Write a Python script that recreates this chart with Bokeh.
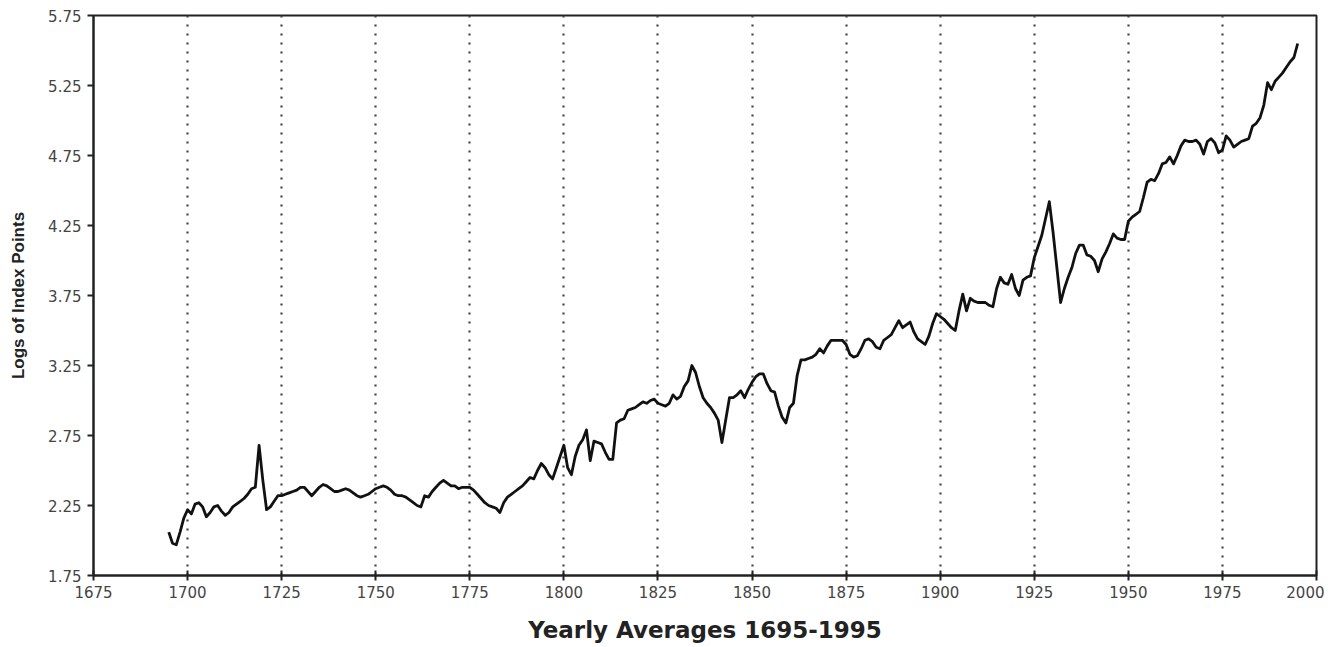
from bokeh.plotting import figure
from bokeh.models import FixedTicker, Range1d, CustomJSTickFormatter
from bokeh.embed import file_html
from bokeh.resources import INLINE

years = list(range(1695, 1996))
log_index = [
    2.06, 1.98, 1.97, 2.06, 2.16,                                  # 1695-1699
    2.22, 2.19, 2.26, 2.27, 2.24, 2.17, 2.20, 2.24, 2.25, 2.21,    # 1700-1709
    2.18, 2.20, 2.24, 2.26, 2.28, 2.30, 2.33, 2.37, 2.38, 2.68,    # 1710-1719
    2.43, 2.22, 2.24, 2.28, 2.32, 2.32, 2.33, 2.34, 2.35, 2.36,    # 1720-1729
    2.38, 2.38, 2.35, 2.32, 2.35, 2.38, 2.40, 2.39, 2.37, 2.35,    # 1730-1739
    2.35, 2.36, 2.37, 2.36, 2.34, 2.32, 2.31, 2.32, 2.33, 2.35,    # 1740-1749
    2.37, 2.38, 2.39, 2.38, 2.36, 2.33, 2.32, 2.32, 2.31, 2.29,    # 1750-1759
    2.27, 2.25, 2.24, 2.32, 2.31, 2.35, 2.38, 2.41, 2.43, 2.41,    # 1760-1769
    2.39, 2.39, 2.37, 2.38, 2.38, 2.38, 2.36, 2.33, 2.30, 2.27,    # 1770-1779
    2.25, 2.24, 2.23, 2.20, 2.27, 2.31, 2.33, 2.35, 2.37, 2.39,    # 1780-1789
    2.42, 2.45, 2.44, 2.50, 2.55, 2.52, 2.47, 2.44, 2.52, 2.60,    # 1790-1799
    2.68, 2.52, 2.47, 2.60, 2.68, 2.72, 2.79, 2.57, 2.71, 2.70,    # 1800-1809
    2.69, 2.63, 2.58, 2.58, 2.84, 2.86, 2.87, 2.93, 2.94, 2.95,    # 1810-1819
    2.97, 2.99, 2.98, 3.00, 3.01, 2.98, 2.97, 2.96, 2.98, 3.04,    # 1820-1829
    3.01, 3.03, 3.10, 3.14, 3.25, 3.20, 3.10, 3.02, 2.98, 2.95,    # 1830-1839
    2.91, 2.86, 2.70, 2.86, 3.02, 3.02, 3.04, 3.07, 3.02, 3.08,    # 1840-1849
    3.13, 3.17, 3.19, 3.19, 3.12, 3.07, 3.06, 2.96, 2.88, 2.84,    # 1850-1859
    2.95, 2.98, 3.18, 3.29, 3.29, 3.30, 3.31, 3.33, 3.37, 3.34,    # 1860-1869
    3.39, 3.43, 3.43, 3.43, 3.43, 3.40, 3.33, 3.31, 3.32, 3.37,    # 1870-1879
    3.43, 3.44, 3.42, 3.38, 3.37, 3.43, 3.45, 3.47, 3.52, 3.57,    # 1880-1889
    3.52, 3.54, 3.56, 3.49, 3.44, 3.42, 3.40, 3.46, 3.55, 3.62,    # 1890-1899
    3.60, 3.58, 3.55, 3.52, 3.50, 3.64, 3.76, 3.64, 3.73, 3.71,    # 1900-1909
    3.70, 3.70, 3.70, 3.68, 3.67, 3.80, 3.88, 3.84, 3.83, 3.90,    # 1910-1919
    3.80, 3.75, 3.86, 3.88, 3.89, 4.02, 4.10, 4.18, 4.30, 4.42,    # 1920-1929
    4.20, 3.95, 3.70, 3.80, 3.88, 3.95, 4.05, 4.11, 4.11, 4.04,    # 1930-1939
    4.03, 4.00, 3.92, 4.01, 4.06, 4.12, 4.19, 4.16, 4.15, 4.15,    # 1940-1949
    4.28, 4.31, 4.33, 4.35, 4.45, 4.56, 4.58, 4.57, 4.62, 4.69,    # 1950-1959
    4.70, 4.74, 4.69, 4.75, 4.82, 4.86, 4.85, 4.85, 4.86, 4.83,    # 1960-1969
    4.76, 4.85, 4.87, 4.84, 4.77, 4.79, 4.89, 4.86, 4.81, 4.83,    # 1970-1979
    4.85, 4.86, 4.87, 4.96, 4.98, 5.02, 5.11, 5.27, 5.22, 5.28,    # 1980-1989
    5.31, 5.34, 5.38, 5.42, 5.45, 5.55,                            # 1990-1995
]

x_ticks = [1675, 1700, 1725, 1750, 1775, 1800, 1825, 1850, 1875, 1900, 1925, 1950, 1975, 2000]
grid_ticks = [1700, 1725, 1750, 1775, 1800, 1825, 1850, 1875, 1900, 1925, 1950, 1975]
y_ticks = [1.75, 2.25, 2.75, 3.25, 3.75, 4.25, 4.75, 5.25, 5.75]

p = figure(width=1324, height=647, output_backend="svg", toolbar_location=None,
           x_range=Range1d(1675, 2000), y_range=Range1d(1.75, 5.75),
           min_border_left=93, min_border_right=8, min_border_top=15, min_border_bottom=72)

p.line(years, log_index, line_color="#111111", line_width=2.8, line_join="round")

p.background_fill_color = "white"
p.border_fill_color = "white"
p.outline_line_color = "#222222"
p.outline_line_width = 2

p.ygrid.visible = False
p.xgrid.ticker = FixedTicker(ticks=grid_ticks)
p.xgrid.grid_line_color = "#444444"
p.xgrid.grid_line_width = 2.2
p.xgrid.grid_line_dash = "2 7"

p.xaxis.ticker = FixedTicker(ticks=x_ticks)
p.yaxis.ticker = FixedTicker(ticks=y_ticks)
p.yaxis.formatter = CustomJSTickFormatter(code="return tick.toFixed(2);")

for ax in (p.xaxis[0], p.yaxis[0]):
    ax.axis_line_color = "#222222"
    ax.axis_line_width = 2
    ax.major_tick_line_color = "#222222"
    ax.major_tick_line_width = 2
    ax.minor_tick_line_color = None
    ax.major_label_text_font = "DejaVu Sans"
    ax.major_label_text_font_size = "15px"
    ax.major_label_text_color = "#444444"

p.xaxis.major_tick_in = 5
p.xaxis.major_tick_out = 5
p.xaxis.major_label_standoff = 5
p.yaxis.major_tick_in = 0
p.yaxis.major_tick_out = 6
p.yaxis.major_label_standoff = 6

p.xaxis.axis_label = "Yearly Averages 1695-1995"
p.xaxis.axis_label_text_font = "DejaVu Sans"
p.xaxis.axis_label_text_font_style = "bold"
p.xaxis.axis_label_text_font_size = "23px"
p.xaxis.axis_label_text_color = "#222222"
p.xaxis.axis_label_standoff = 16

p.yaxis.axis_label = "Logs of Index Points"
p.yaxis.axis_label_text_font = "Liberation Sans"
p.yaxis.axis_label_text_font_style = "bold"
p.yaxis.axis_label_text_font_size = "17px"
p.yaxis.axis_label_text_color = "#222222"
p.yaxis.axis_label_standoff = 17

open("out.html", "w").write(file_html(p, INLINE))
